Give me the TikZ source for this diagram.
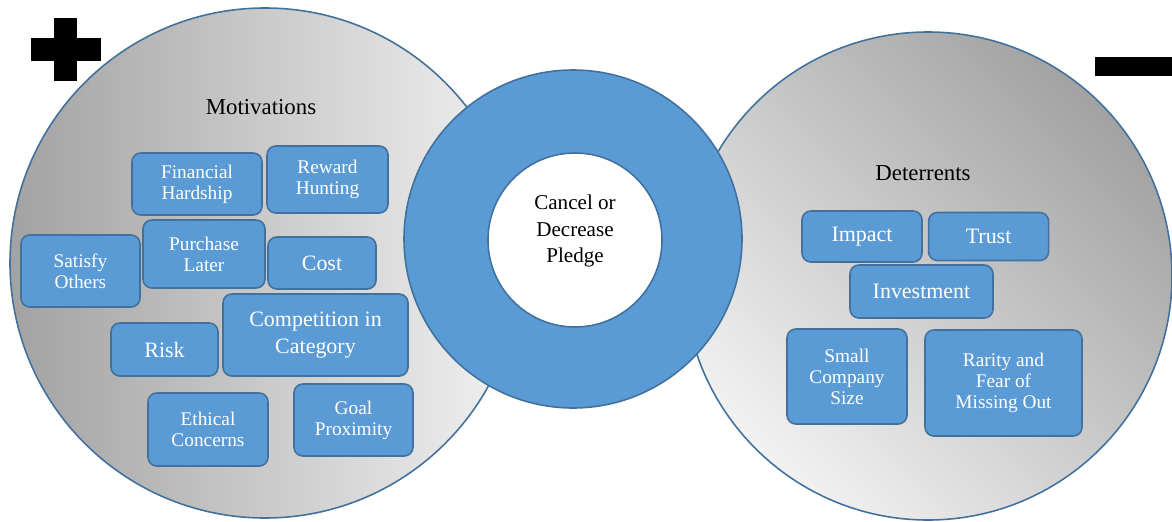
\documentclass[tikz,border=0pt]{standalone}
\usepackage{fontspec}
\setmainfont{Liberation Serif}
\usetikzlibrary{%
  shapes,
  positioning
}
\definecolor{boxblue}{HTML}{5B9BD5}
\definecolor{edgeblue}{HTML}{41719C}
\definecolor{shadelight}{HTML}{F2F2F2}
\definecolor{shadedark}{HTML}{A2A2A2}
\tikzstyle{bigcircle} = [draw=edgeblue, line width=0.9pt, circle, inner sep=0pt]
\tikzstyle{factor} = [draw=edgeblue, fill=boxblue, line width=0.9pt, rectangle, rounded corners=5pt, text=white, align=center, inner sep=1mm, font=\fontsize{11}{12}\selectfont]
\tikzstyle{bigfactor} = [factor, font=\fontsize{12.5}{15}\selectfont]
\tikzstyle{heading} = [font=\fontsize{13}{15}\selectfont]
\tikzstyle{sign} = [fill=black]

\begin{document}
\begin{tikzpicture}[node distance=0.1cm]
        \useasboundingbox (0,0) rectangle (23.44,-10.42);
        % the two big shaded circles
        \node[bigcircle, minimum size=10.2cm, left color=shadedark, right color=shadelight] (circle1) at (5.30,-5.26) {};
        \node[bigcircle, minimum size=9.76cm, top color=shadedark, bottom color=shadelight, shading angle=-45] (circle2) at (18.56,-5.52) {};
        % ring in the middle
        \node[bigcircle, minimum size=6.76cm, fill=boxblue] (ring) at (11.46,-4.78) {};
        \node[bigcircle, minimum size=3.48cm, fill=white] (hub) at (11.50,-4.80) {};
        \node[align=center, font=\fontsize{12}{15}\selectfont] (pledge) at (11.50,-4.62) {Cancel or\\Decrease\\Pledge};
        % plus and minus
        \fill[sign] (0.62,-0.76) rectangle (2.02,-1.22);
        \fill[sign] (1.08,-0.36) rectangle (1.54,-1.62);
        \fill[sign] (21.90,-1.14) rectangle (23.44,-1.52);
        % left side
        \node[heading] (motiv) at (5.22,-2.14) {Motivations};
        \node[factor, minimum width=2.6cm, minimum height=1.24cm] (mot1) at (3.94,-3.68) {Financial\\Hardship};
        \node[factor, minimum width=2.42cm, minimum height=1.34cm] (mot2) at (6.55,-3.59) {Reward\\Hunting};
        \node[factor, minimum width=2.38cm, minimum height=1.44cm] (mot3) at (1.61,-5.42) {Satisfy\\Others};
        \node[factor, minimum width=2.44cm, minimum height=1.36cm] (mot4) at (4.08,-5.08) {Purchase\\Later};
        \node[bigfactor, minimum width=2.16cm, minimum height=1.04cm] (mot5) at (6.44,-5.26) {Cost};
        \node[bigfactor, minimum width=2.14cm, minimum height=1.06cm] (mot6) at (3.29,-6.99) {Risk};
        \node[bigfactor, minimum width=3.7cm, minimum height=1.64cm] (mot7) at (6.31,-6.70) {Competition in\\Category};
        \node[factor, minimum width=2.4cm, minimum height=1.46cm] (mot8) at (4.16,-8.59) {Ethical\\Concerns};
        \node[factor, minimum width=2.38cm, minimum height=1.44cm] (mot9) at (7.07,-8.40) {Goal\\Proximity};
        % right side
        \node[heading] (deter) at (18.46,-3.46) {Deterrents};
        \node[bigfactor, minimum width=2.4cm, minimum height=1.02cm] (det1) at (17.24,-4.73) {Impact};
        \node[bigfactor, minimum width=2.4cm, minimum height=0.96cm, right=of det1] (det2) {Trust};
        \node[bigfactor, minimum width=2.86cm, minimum height=1.06cm] (det3) at (18.43,-5.83) {Investment};
        \node[factor, minimum width=2.4cm, minimum height=1.9cm] (det4) at (16.94,-7.53) {Small\\Company\\Size};
        \node[factor, minimum width=3.14cm, minimum height=2.12cm] (det5) at (20.07,-7.66) {Rarity and\\Fear of\\Missing Out};
\end{tikzpicture}
\end{document}
